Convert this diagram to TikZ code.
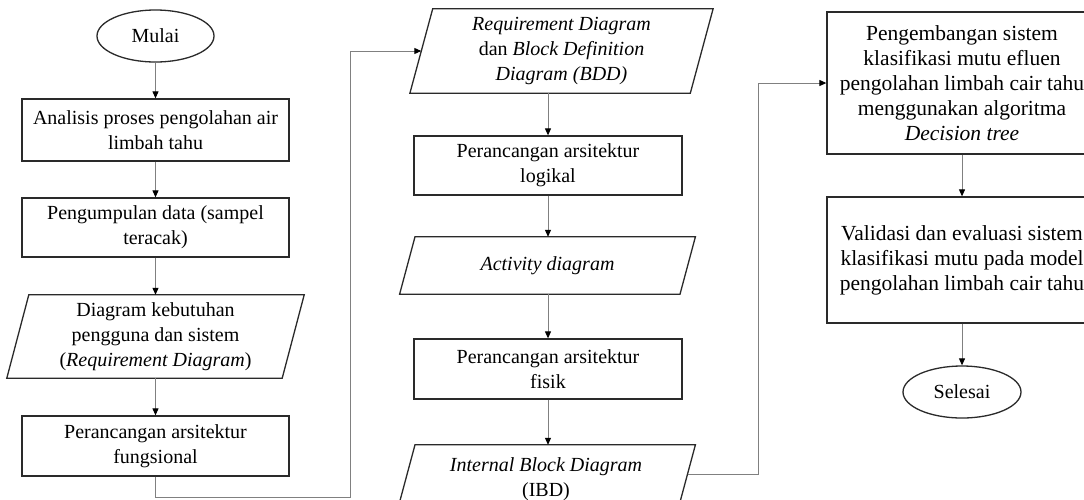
\documentclass[tikz,border=0pt]{standalone}
\usepackage{fontspec}
\setmainfont{Liberation Serif}
\usetikzlibrary{shapes.geometric,arrows.meta}
\definecolor{boxc}{HTML}{2A2A2A}
\definecolor{linec}{HTML}{808080}
\begin{document}
\begin{tikzpicture}[x=1pt,y=-1pt,
  every node/.style={font=\fontsize{20}{25}\selectfont, align=center, inner sep=0pt},
  box/.style={draw=boxc, line width=1.3pt, rectangle},
  bigbox/.style={box, font=\fontsize{21.5}{25}\selectfont},
  pbody/.style={rectangle},
  pline/.style={draw=boxc, line width=1.3pt, line join=miter},
  term/.style={draw=boxc, line width=1.3pt, ellipse, minimum width=117pt, minimum height=52pt},
  conn/.style={draw=linec, line width=1pt, -{Triangle[length=7pt,width=6pt,color=black]}}
]
\clip (0,0) rectangle (1084,499);
\fill[white] (0,0) rectangle (1084,499);

% column 1
\node[term] (start) at (155.5,36) {Mulai};
\node[box, minimum width=267pt, minimum height=62pt] (a1) at (155.5,130) {Analisis proses pengolahan air\\limbah tahu};
\node[box, minimum width=267pt, minimum height=59pt] (a2) at (155.5,227.5) {Pengumpulan data (sampel\\teracak)};
\node[pbody, minimum width=275pt, minimum height=83pt] (a3) at (155.5,336.5) {Diagram kebutuhan\\pengguna dan sistem\\(\textit{Requirement Diagram})};
\draw[pline] ([xshift=-11pt]a3.south west) -- ([xshift=-11pt]a3.south east) -- ([xshift=11pt]a3.north east) -- ([xshift=11pt]a3.north west) -- cycle;
\node[box, minimum width=267pt, minimum height=60pt] (a4) at (155.5,446) {Perancangan arsitektur\\fungsional};

% column 2
\node[pbody, minimum width=280pt, minimum height=84pt] (b1) at (561.5,51) {\textit{Requirement Diagram}\\dan \textit{Block Definition}\\\textit{Diagram (BDD)}};
\draw[pline] ([xshift=-11.4pt]b1.south west) -- ([xshift=-11.4pt]b1.south east) -- ([xshift=11.4pt]b1.north east) -- ([xshift=11.4pt]b1.north west) -- cycle;
\node[box, minimum width=268pt, minimum height=59pt] (b2) at (548,165.5) {Perancangan arsitektur\\logikal};
\node[pbody, minimum width=280pt, minimum height=57pt] (b3) at (547.5,265.5) {\textit{Activity diagram}};
\draw[pline] ([xshift=-7.7pt]b3.south west) -- ([xshift=-7.7pt]b3.south east) -- ([xshift=7.7pt]b3.north east) -- ([xshift=7.7pt]b3.north west) -- cycle;
\node[box, minimum width=268pt, minimum height=60pt] (b4) at (548,369) {Perancangan arsitektur\\fisik};
\node[pbody, minimum width=280pt, minimum height=68pt] (b5) at (546,479) {\textit{Internal Block Diagram}\\(IBD)};
\draw[pline] ([xshift=-9.2pt]b5.south west) -- ([xshift=-9.2pt]b5.south east) -- ([xshift=9.2pt]b5.north east) -- ([xshift=9.2pt]b5.north west) -- cycle;

% column 3
\node[bigbox, minimum width=270pt, minimum height=142pt] (c1) at (962,83) {Pengembangan sistem\\klasifikasi mutu efluen\\pengolahan limbah cair tahu\\menggunakan algoritma\\\textit{Decision tree}};
\node[bigbox, minimum width=270pt, minimum height=126pt] (c2) at (962,260) {Validasi dan evaluasi sistem\\klasifikasi mutu pada model\\pengolahan limbah cair tahu};
\node[term, minimum width=118pt] (end) at (962,392) {Selesai};

% connectors
\draw[conn] (start.south) -- (a1.north);
\draw[conn] (a1.south) -- (a2.north);
\draw[conn] (a2.south) -- (a3.north);
\draw[conn] (a3.south) -- (a4.north);
\coordinate (r1) at (155.5,497);
\coordinate (r2) at (350,497);
\draw[conn] (a4.south) -- (r1) -- (r2) -- (r2 |- b1.west) -- (b1.west);
\draw[conn] (b2.north |- b1.south) -- (b2.north);
\draw[conn] (b2.south) -- (b2.south |- b3.north);
\draw[conn] (b4.north |- b3.south) -- (b4.north);
\draw[conn] (b4.south) -- (b4.south |- b5.north);
\coordinate (t0) at ([xshift=1.4pt,yshift=5pt]b5.east);
\coordinate (t1) at (758,474);
\draw[conn] (t0) -- (t1) -- (t1 |- c1.west) -- (c1.west);
\draw[conn] (c1.south) -- (c2.north);
\draw[conn] (c2.south) -- (end.north);
\end{tikzpicture}
\end{document}
